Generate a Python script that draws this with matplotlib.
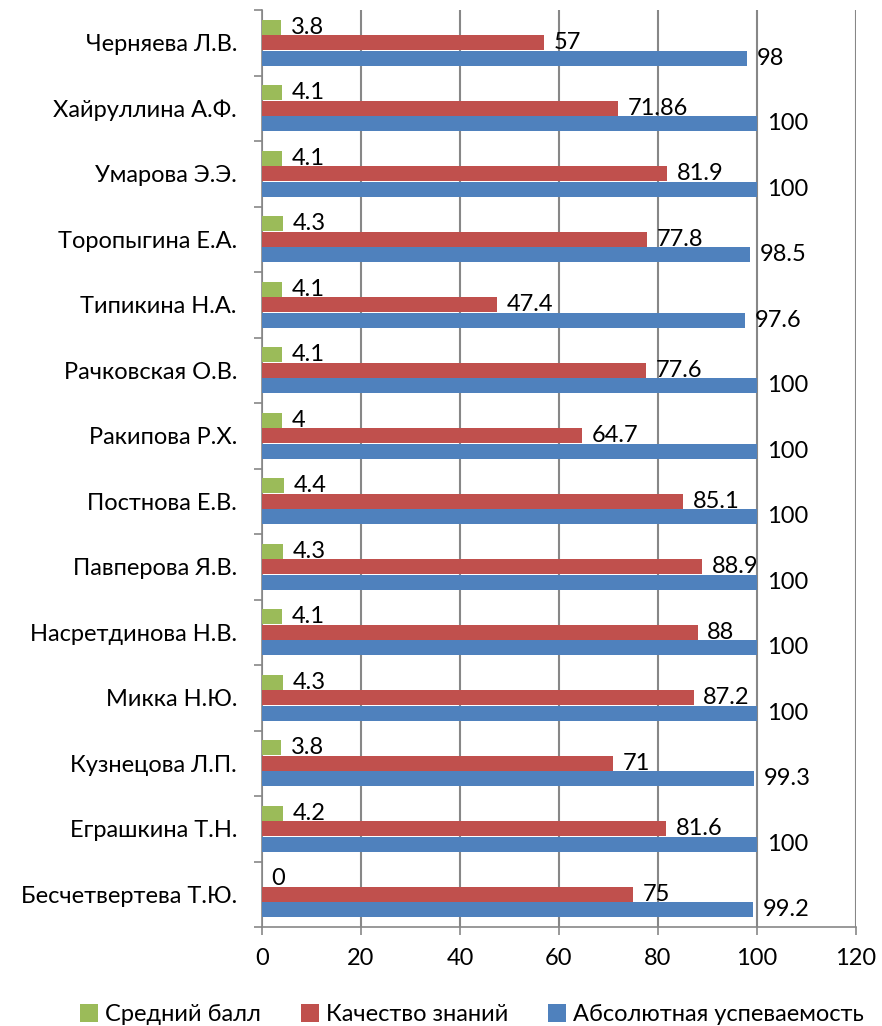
import matplotlib
matplotlib.use("Agg")
import matplotlib.pyplot as plt
import numpy as np

plt.rcParams['font.family'] = ['Lato', 'DejaVu Sans']

teachers = ["Черняева Л.В.", "Хайруллина А.Ф.", "Умарова Э.Э.", "Торопыгина Е.А.",
            "Типикина Н.А.", "Рачковская О.В.", "Ракипова Р.Х.", "Постнова Е.В.",
            "Павперова Я.В.", "Насретдинова Н.В.", "Микка Н.Ю.", "Кузнецова Л.П.",
            "Еграшкина Т.Н.", "Бесчетвертева Т.Ю."]
avg_score = [3.8, 4.1, 4.1, 4.3, 4.1, 4.1, 4, 4.4, 4.3, 4.1, 4.3, 3.8, 4.2, 0]
quality = [57, 71.86, 81.9, 77.8, 47.4, 77.6, 64.7, 85.1, 88.9, 88, 87.2, 71, 81.6, 75]
success = [98, 100, 100, 98.5, 97.6, 100, 100, 100, 100, 100, 100, 99.3, 100, 99.2]

avg_labels = ["3.8", "4.1", "4.1", "4.3", "4.1", "4.1", "4", "4.4", "4.3", "4.1", "4.3", "3.8", "4.2", "0"]
quality_labels = ["57", "71.86", "81.9", "77.8", "47.4", "77.6", "64.7", "85.1", "88.9", "88", "87.2", "71", "81.6", "75"]
success_labels = ["98", "100", "100", "98.5", "97.6", "100", "100", "100", "100", "100", "100", "99.3", "100", "99.2"]

series_names = ["Средний балл", "Качество знаний", "Абсолютная успеваемость"]
colors = ["#9BBB59", "#C0504D", "#4F81BD"]

FS = 17

fig = plt.figure(figsize=(8.82, 10.26), dpi=100)
ax = fig.add_axes([262/882, 99/1026, (856-262)/882, (927-10)/1026])

n = len(teachers)
y = np.arange(n)[::-1]  # first teacher at top
h = 0.232
offsets = [h * 1.03, 0, -h * 1.03]
data = [avg_score, quality, success]
labels = [avg_labels, quality_labels, success_labels]

for vals, labs, off, col, name in zip(data, labels, offsets, colors, series_names):
    bars = ax.barh(y + off, vals, height=h, color=col, label=name, zorder=3)
    ax.bar_label(bars, labels=labs, padding=7, fontsize=FS, color='black', zorder=4)

ax.set_xlim(0, 120)
ax.set_ylim(-0.5, n - 0.5)
ax.set_xticks(np.arange(0, 121, 20))
ax.set_yticks(y)
ax.set_yticklabels(teachers, fontsize=FS)
ax.set_yticks(np.arange(-0.5, n, 1.0), minor=True)
ax.tick_params(axis='y', which='major', length=0, pad=18)
ax.tick_params(axis='y', which='minor', length=6, width=1.2, color='#878787', direction='out')
ax.tick_params(axis='x', which='major', length=6, width=1.2, color='#878787', direction='out',
               labelsize=FS, pad=9)
ax.grid(axis='x', color='#878787', linewidth=1.5, zorder=0)
for s in ['top', 'right']:
    ax.spines[s].set_visible(False)
for s in ['left', 'bottom']:
    ax.spines[s].set_color('#878787')
    ax.spines[s].set_linewidth(1.2)

handles, labs = ax.get_legend_handles_labels()
fig.legend(handles, labs, loc='lower center', bbox_to_anchor=(0.535, -0.02), ncol=3,
           frameon=False, fontsize=FS, handlelength=0.75, handleheight=0.75,
           handletextpad=0.3, columnspacing=1.7)

fig.savefig("out.png", dpi=100)
